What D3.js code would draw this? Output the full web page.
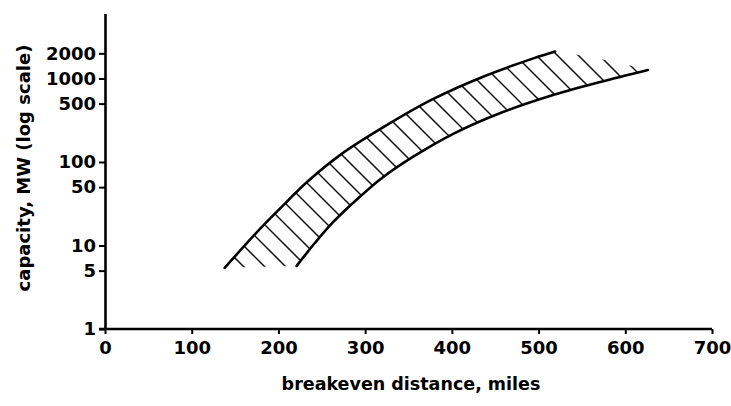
<!DOCTYPE html>
<html>
<head>
<meta charset="utf-8">
<script src="https://cdn.jsdelivr.net/npm/d3@7"></script>
<style>
  html, body { margin: 0; padding: 0; background: #fff; }
  svg { display: block; }
  text { font-family: "DejaVu Sans", Arial, sans-serif; font-weight: bold; fill: #000; }
</style>
</head>
<body>
<script>
// ---- data ----
const xTicks = [0, 100, 200, 300, 400, 500, 600, 700];
const yTicks = [1, 5, 10, 50, 100, 500, 1000, 2000];

// upper boundary of the breakeven band (distance miles, capacity MW)
const upperX = [138, 179, 202, 233, 271, 321, 378, 436, 494, 519];
const upperY = [5.4, 15.9, 27.8, 57.6, 121, 261, 565, 1051, 1741, 2106];

// lower boundary of the band
const lowerX = [221, 242, 263, 291, 319, 355, 401, 456, 513, 571, 626];
const lowerY = [5.7, 10.7, 19, 36, 64, 115, 216, 386, 617, 908, 1265];

// hatching continues beyond the end of the upper curve (no drawn edge)
const tailX = [519, 534, 565, 594, 626];
const tailY = [2106, 2020, 1760, 1534, 1265];

const xTitle = "breakeven distance, miles";
const yTitle = "capacity, MW (log scale)";

// ---- layout ----
const W = 731, H = 406;
const svg = d3.select("body").append("svg").attr("width", W).attr("height", H);

const x = d3.scaleLinear().domain([0, 700]).range([105, 712]);
const y = d3.scaleLog().domain([1, 6000]).range([329, 13.5]);

const toPts = (xs, ys) => xs.map((v, i) => [x(v), y(ys[i])]);
const upperPts = toPts(upperX, upperY);
const lowerPts = toPts(lowerX, lowerY);
const tailPts = toPts(tailX, tailY);

const smooth = d3.line().curve(d3.curveCatmullRom.alpha(0.5));
const straight = d3.line();

// clip region for hatching
const clipD = smooth(upperPts)
  + straight(tailPts.slice(1)).replace(/^M/, "L")
  + smooth(lowerPts.slice().reverse()).replace(/^M/, "L")
  + "Z";

svg.append("defs").append("clipPath").attr("id", "band")
  .append("path").attr("d", clipD);

// hatch lines (style pattern: "\" lines, 21px period)
const hatchG = svg.append("g").attr("clip-path", "url(#band)");
const cs = d3.range(-502 - 21 * 6, 100, 21);
hatchG.selectAll("line").data(cs).join("line")
  .attr("x1", 80).attr("y1", c => 80 + c)
  .attr("x2", 760).attr("y2", c => 760 + c)
  .attr("stroke", "#111").attr("stroke-width", 1.5);

// boundary curves
svg.append("path").attr("d", smooth(upperPts))
  .attr("fill", "none").attr("stroke", "#000").attr("stroke-width", 2.6)
  .attr("stroke-linecap", "round");
svg.append("path").attr("d", smooth(lowerPts))
  .attr("fill", "none").attr("stroke", "#000").attr("stroke-width", 2.6)
  .attr("stroke-linecap", "round");

// axes
const xAxis = d3.axisBottom(x).tickValues(xTicks).tickFormat(d3.format("d"))
  .tickSize(5).tickSizeOuter(0).tickPadding(7);
const yAxis = d3.axisLeft(y).tickValues(yTicks).tickFormat(d3.format("d"))
  .tickSize(6).tickSizeOuter(0).tickPadding(3);

const gx = svg.append("g").attr("transform", "translate(0,329)").call(xAxis);
const gy = svg.append("g").attr("transform", "translate(105,0)").call(yAxis);

[gx, gy].forEach(g => {
  g.select(".domain").attr("stroke", "#000").attr("stroke-width", 2.6);
  g.selectAll(".tick line").attr("stroke", "#000").attr("stroke-width", 2);
  g.selectAll(".tick text").style("font-size", "18px")
    .style("font-family", "'DejaVu Sans', Arial, sans-serif")
    .style("font-weight", "bold").attr("fill", "#000");
});
// x-axis line extends slightly left of the y-axis
gx.select(".domain").attr("d", "M99,0H712");

// titles
svg.append("text").attr("x", 411).attr("y", 390)
  .attr("text-anchor", "middle").style("font-size", "17.5px").text(xTitle);
svg.append("text").attr("transform", "translate(30,168) rotate(-90)")
  .attr("text-anchor", "middle").style("font-size", "18px").text(yTitle);
</script>
</body>
</html>
